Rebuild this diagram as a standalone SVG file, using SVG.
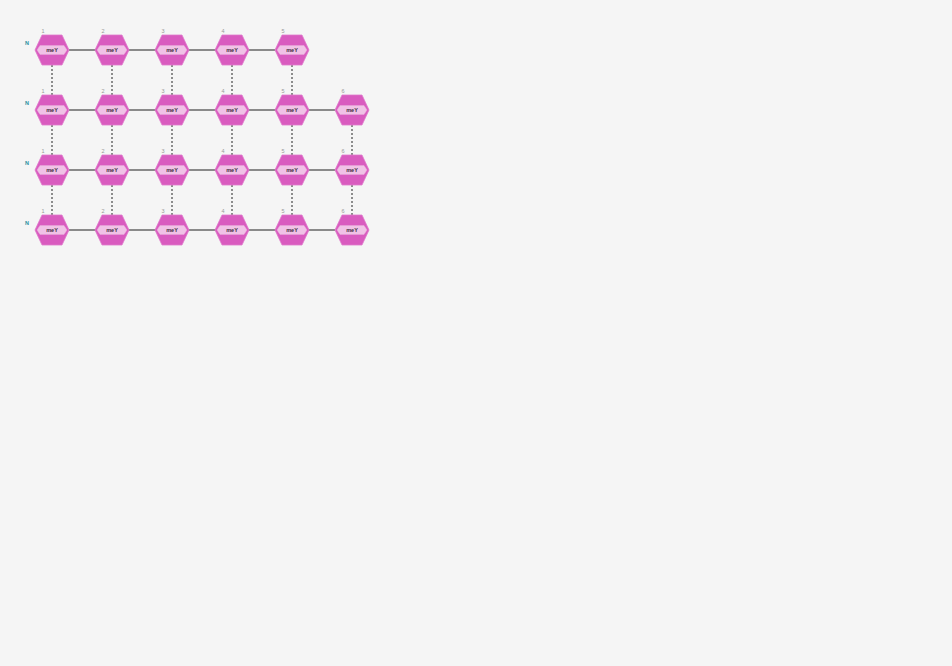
<svg xmlns="http://www.w3.org/2000/svg" width="952" height="666" viewBox="0 0 952 666">
<defs>
<style>
.bg{fill:#f5f5f5}
.hex{fill:#d95bbf;stroke:#e07acb;stroke-width:0.8}
.band{fill:#f0c2e6;stroke:#e9a9da;stroke-width:0.5}
.lbl{font-family:"Liberation Sans",Arial,sans-serif;font-size:5.5px;font-weight:bold;fill:#3a2a3a;text-anchor:middle}
.num{font-family:"Liberation Sans",Arial,sans-serif;font-size:5.5px;fill:#999;text-anchor:middle}
.n{font-family:"Liberation Sans",Arial,sans-serif;font-size:5.5px;font-weight:bold;fill:#2a8fa0;text-anchor:middle}
.h{stroke:#666;stroke-width:1.5}
.v{stroke:#222;stroke-width:1;stroke-dasharray:2,2}
</style>
<g id="mono">
<polygon class="hex" points="-17,0 -10,-15 10,-15 17,0 10,15 -10,15"/>
<polygon class="band" points="-15,0 -12,-4.5 12,-4.5 15,0 12,4.5 -12,4.5"/>
<text class="lbl" x="0" y="2">meY</text>
</g>
</defs>
<rect class="bg" width="952" height="666"/>
<g id="connectors">
<line class="h" x1="69" y1="50" x2="275" y2="50"/>
<line class="h" x1="69" y1="110" x2="335" y2="110"/>
<line class="h" x1="69" y1="170" x2="335" y2="170"/>
<line class="h" x1="69" y1="230" x2="335" y2="230"/>
<line class="v" x1="52" y1="65" x2="52" y2="95"/>
<line class="v" x1="112" y1="65" x2="112" y2="95"/>
<line class="v" x1="172" y1="65" x2="172" y2="95"/>
<line class="v" x1="232" y1="65" x2="232" y2="95"/>
<line class="v" x1="292" y1="65" x2="292" y2="95"/>
<line class="v" x1="52" y1="125" x2="52" y2="155"/>
<line class="v" x1="112" y1="125" x2="112" y2="155"/>
<line class="v" x1="172" y1="125" x2="172" y2="155"/>
<line class="v" x1="232" y1="125" x2="232" y2="155"/>
<line class="v" x1="292" y1="125" x2="292" y2="155"/>
<line class="v" x1="352" y1="125" x2="352" y2="155"/>
<line class="v" x1="52" y1="185" x2="52" y2="215"/>
<line class="v" x1="112" y1="185" x2="112" y2="215"/>
<line class="v" x1="172" y1="185" x2="172" y2="215"/>
<line class="v" x1="232" y1="185" x2="232" y2="215"/>
<line class="v" x1="292" y1="185" x2="292" y2="215"/>
<line class="v" x1="352" y1="185" x2="352" y2="215"/>
</g>
<g id="chain1">
<text class="n" x="27" y="45">N</text>
<g id="r1n1"><use href="#mono" x="52" y="50"/><text class="num" x="43" y="33">1</text></g>
<g id="r1n2"><use href="#mono" x="112" y="50"/><text class="num" x="103" y="33">2</text></g>
<g id="r1n3"><use href="#mono" x="172" y="50"/><text class="num" x="163" y="33">3</text></g>
<g id="r1n4"><use href="#mono" x="232" y="50"/><text class="num" x="223" y="33">4</text></g>
<g id="r1n5"><use href="#mono" x="292" y="50"/><text class="num" x="283" y="33">5</text></g>
</g>
<g id="chain2">
<text class="n" x="27" y="105">N</text>
<g id="r2n1"><use href="#mono" x="52" y="110"/><text class="num" x="43" y="93">1</text></g>
<g id="r2n2"><use href="#mono" x="112" y="110"/><text class="num" x="103" y="93">2</text></g>
<g id="r2n3"><use href="#mono" x="172" y="110"/><text class="num" x="163" y="93">3</text></g>
<g id="r2n4"><use href="#mono" x="232" y="110"/><text class="num" x="223" y="93">4</text></g>
<g id="r2n5"><use href="#mono" x="292" y="110"/><text class="num" x="283" y="93">5</text></g>
<g id="r2n6"><use href="#mono" x="352" y="110"/><text class="num" x="343" y="93">6</text></g>
</g>
<g id="chain3">
<text class="n" x="27" y="165">N</text>
<g id="r3n1"><use href="#mono" x="52" y="170"/><text class="num" x="43" y="153">1</text></g>
<g id="r3n2"><use href="#mono" x="112" y="170"/><text class="num" x="103" y="153">2</text></g>
<g id="r3n3"><use href="#mono" x="172" y="170"/><text class="num" x="163" y="153">3</text></g>
<g id="r3n4"><use href="#mono" x="232" y="170"/><text class="num" x="223" y="153">4</text></g>
<g id="r3n5"><use href="#mono" x="292" y="170"/><text class="num" x="283" y="153">5</text></g>
<g id="r3n6"><use href="#mono" x="352" y="170"/><text class="num" x="343" y="153">6</text></g>
</g>
<g id="chain4">
<text class="n" x="27" y="225">N</text>
<g id="r4n1"><use href="#mono" x="52" y="230"/><text class="num" x="43" y="213">1</text></g>
<g id="r4n2"><use href="#mono" x="112" y="230"/><text class="num" x="103" y="213">2</text></g>
<g id="r4n3"><use href="#mono" x="172" y="230"/><text class="num" x="163" y="213">3</text></g>
<g id="r4n4"><use href="#mono" x="232" y="230"/><text class="num" x="223" y="213">4</text></g>
<g id="r4n5"><use href="#mono" x="292" y="230"/><text class="num" x="283" y="213">5</text></g>
<g id="r4n6"><use href="#mono" x="352" y="230"/><text class="num" x="343" y="213">6</text></g>
</g>
</svg>
